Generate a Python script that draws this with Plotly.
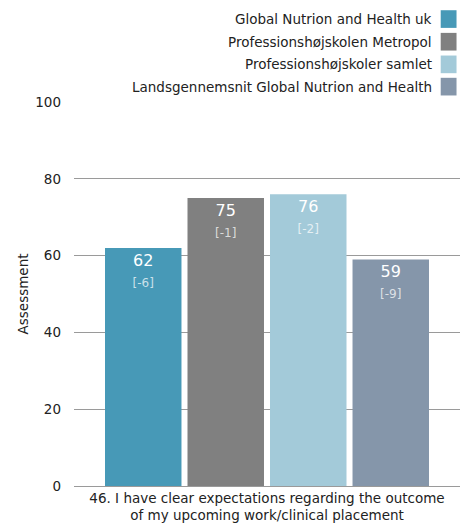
import plotly.graph_objects as go

series_names = [
    "Global Nutrion and Health uk",
    "Professionshøjskolen Metropol",
    "Professionshøjskoler samlet",
    "Landsgennemsnit Global Nutrion and Health",
]
values = [62, 75, 76, 59]
diffs = [-6, -1, -2, -9]
colors = ["#4799b7", "#808080", "#a3cad9", "#8596aa"]
category = ["46. I have clear expectations regarding the outcome<br>of my upcoming work/clinical placement"]
y_ticks = [0, 20, 40, 60, 80, 100]

FONT = "DejaVu Sans"
FS = 13.5

fig = go.Figure()
for name, v, d, c in zip(series_names, values, diffs, colors):
    fig.add_trace(go.Bar(
        x=category, y=[v], name=name, marker=dict(color=c, line=dict(width=0)),
        text=[f"{v}<br><span style='font-size:12px;color:rgba(255,255,255,0.72)'>[{d}]</span>"],
        textposition="inside", insidetextanchor="end", textangle=0,
        textfont=dict(color="white", size=16, family=FONT),
        showlegend=False,
    ))

# legend built from series names (text right, swatch on right)
row_y = [1.216, 1.157, 1.098, 1.040]
for name, c, yy in zip(series_names, colors, row_y):
    fig.add_annotation(xref="paper", yref="paper", x=0.933, y=yy, text=name,
                       showarrow=False, xanchor="right", yanchor="middle",
                       font=dict(family=FONT, size=FS, color="#222"))
    fig.add_shape(type="rect", xref="paper", yref="paper",
                  x0=0.950, x1=0.991, y0=yy - 0.023, y1=yy + 0.023,
                  fillcolor=c, line=dict(width=0))

fig.update_layout(
    width=462, height=529,
    margin=dict(l=74, r=2, t=102, b=43, autoexpand=False),
    paper_bgcolor="white", plot_bgcolor="white",
    barmode="group", bargap=0.145, bargroupgap=0.073,
    font=dict(family=FONT, size=FS, color="#222"),
    showlegend=False,
)
fig.update_xaxes(type="category", range=[-0.5, 0.5], showgrid=False, showline=False,
                 ticks="", ticklabelstandoff=2,
                 tickfont=dict(size=FS, family=FONT, color="#222"), automargin=False)
fig.update_yaxes(range=[0, 100], tickvals=y_ticks, showgrid=True, gridcolor="#9a9a9a", gridwidth=1,
                 zeroline=True, zerolinecolor="#9a9a9a", zerolinewidth=1, showline=False,
                 ticks="", ticklabelstandoff=12, tickfont=dict(size=FS, family=FONT, color="#222"),
                 title=dict(text="Assessment", standoff=3, font=dict(size=FS, family=FONT, color="#222")),
                 automargin=False)

fig.write_html("out.html")
